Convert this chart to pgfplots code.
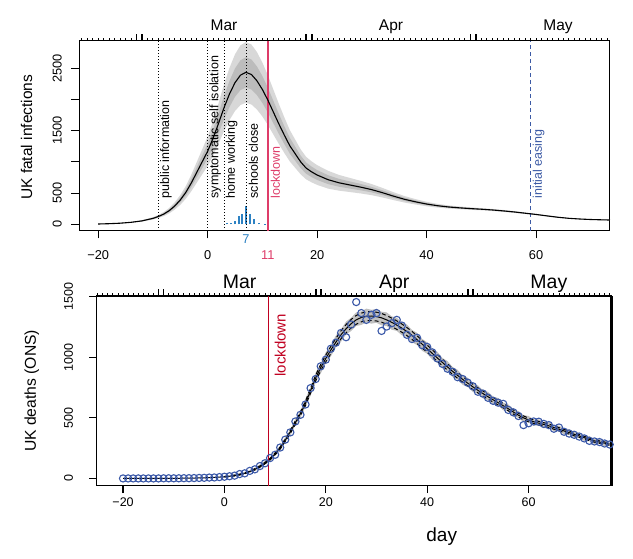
\documentclass[border=0pt]{standalone}
\usepackage{pgfplots}
\pgfplotsset{compat=1.18}
\usepackage{pgfplotstable}
\usepgfplotslibrary{fillbetween}
\usepackage{fontspec}
\setmainfont{Liberation Sans}

\definecolor{outerband}{RGB}{216,216,216}
\definecolor{innerband}{RGB}{188,188,188}
\definecolor{lockpink}{RGB}{222,60,105}
\definecolor{barblue}{RGB}{45,130,195}
\definecolor{easeblue}{RGB}{60,90,165}
\definecolor{ptblue}{RGB}{58,88,168}
\definecolor{lockred}{RGB}{192,0,32}
\definecolor{bandgrey}{RGB}{192,192,192}

% top panel: fatal infections, median and two credible bands
\pgfplotstableread{
d m lo2 lo1 hi1 hi2
-20 5 4 4.5 5.5 6
-18 10 8 9 11 12
-16 18 14 16 20 22
-14 32 26 29 35 38
-12 55 44 50 61 66
-10 95 76 86 105 114
-9 125 100 113 138 150
-8 165 132 149 182 198
-7 220 176 198 242 264
-6 295 236 266 325 354
-5 390 312 351 429 468
-4 510 408 459 561 612
-3 660 528 594 726 792
-2 830 664 747 913 996
-1 1000 800 900 1100 1200
0 1170 936 1053 1287 1404
1 1380 1104 1242 1518 1656
2 1620 1296 1458 1782 1944
3 1870 1496 1683 2057 2244
4 2090 1672 1881 2299 2508
5 2270 1816 2043 2497 2724
6 2390 1912 2151 2629 2868
7 2435 1948 2192 2679 2922
8 2400 1920 2160 2640 2880
9 2300 1840 2070 2530 2760
10 2160 1728 1944 2376 2592
11 1990 1592 1791 2189 2388
12 1800 1440 1620 1980 2160
13 1610 1288 1449 1771 1932
14 1430 1144 1287 1573 1716
15 1260 1008 1134 1386 1512
16 1130 904 1017 1243 1356
17 1000 800 900 1100 1200
18 900 720 810 990 1080
19 840 672 756 924 1008
20 790 632 711 869 948
22 715 572 644 787 858
24 665 539 602 728 791
26 630 517 573 687 743
28 595 494 544 646 696
30 555 466 511 599 644
32 505 429 467 543 581
34 450 387 419 482 513
36 400 348 374 426 452
38 360 317 338 382 403
40 325 289 307 343 361
42 298 268 283 313 328
44 278 253 265 291 303
46 264 242 253 275 286
48 252 232 242 262 272
50 242 225 234 250 259
52 230 214 222 238 246
54 215 200 207 223 230
56 198 184 191 205 212
58 178 167 173 183 189
60 158 149 153 163 167
62 135 127 131 139 143
64 113 106 110 116 120
66 96 91 94 98 101
68 85 81 83 87 89
70 77 73 75 79 81
72 72 68 70 74 76
73.5 69 66 67 71 72
}\fatal

% bottom panel: fitted deaths, band and dashed interval
\pgfplotstableread{
d f lo hi dlo dhi
0 14 10 18 11 17
1 18 13 23 15 21
2 24 18 30 20 28
3 32 25 39 28 36
4 43 35 51 39 47
5 57 46 68 53 61
6 75 62 88 70 80
7 98 81 115 93 103
8 126 118 146 120 132
9 160 138 170 153 167
10 202 191 225 194 210
11 252 227 265 243 261
12 315 300 342 304 326
13 385 355 403 372 398
14 460 440 492 445 475
15 535 500 558 519 551
16 620 594 658 601 639
17 725 684 754 704 746
18 828 795 873 804 852
19 915 867 951 889 941
20 990 951 1041 962 1018
21 1060 1007 1101 1030 1090
22 1125 1082 1180 1094 1156
23 1185 1128 1230 1152 1218
24 1235 1188 1294 1201 1269
25 1277 1216 1326 1242 1312
26 1308 1258 1370 1272 1344
27 1328 1266 1378 1292 1364
28 1338 1287 1401 1302 1374
29 1340 1277 1391 1303 1377
30 1335 1284 1398 1299 1371
31 1325 1263 1375 1289 1361
32 1308 1258 1370 1272 1344
33 1288 1227 1337 1253 1323
34 1265 1217 1325 1230 1300
35 1240 1181 1287 1206 1274
36 1212 1166 1270 1179 1245
37 1180 1123 1225 1147 1213
38 1145 1101 1201 1113 1177
39 1108 1053 1151 1077 1139
40 1070 1029 1123 1040 1100
41 1032 980 1072 1003 1061
42 994 955 1045 966 1022
43 957 908 994 930 984
44 920 884 968 894 946
45 884 837 919 859 909
46 850 816 896 826 874
47 817 772 850 794 840
48 786 754 830 763 809
49 756 714 786 734 778
50 727 698 768 706 748
51 700 660 728 679 721
52 674 646 714 654 694
53 649 610 676 630 668
54 625 599 663 606 644
55 600 563 625 582 618
56 575 551 611 558 592
57 548 513 571 531 565
58 522 500 556 506 538
59 500 466 522 484 516
60 482 461 515 467 497
61 468 436 488 453 483
62 456 436 488 442 470
63 446 414 466 432 460
64 434 415 465 420 448
65 420 389 439 406 434
66 406 388 436 393 419
67 392 362 410 379 405
68 378 361 407 366 390
69 364 335 381 352 376
70 350 334 378 338 362
71 336 308 352 325 347
72 322 307 349 311 333
73 310 283 325 299 321
74 300 285 327 290 310
75 291 265 305 281 301
76 284 270 310 274 294
}\fit

\pgfplotstableread{
d f
-20 0
-19 0
-18 0
-17 0
-16 0
-15 0
-14 0
-13 0.5
-12 0.6
-11 0.8
-10 1
-9 1.3
-8 1.7
-7 2.2
-6 3
-5 4
-4 5
-3 6.5
-2 8.5
-1 11
0 14
}\fitleft

\pgfplotstableread{
d v
-20 0
-19 0
-18 0
-17 0
-16 0
-15 0
-14 0
-13 0
-12 1
-11 1
-10 1
-9 1
-8 2
-7 2
-6 3
-5 4
-4 5
-3 7
-2 8
-1 11
0 14
1 18
2 23
3 36
4 42
5 62
6 75
7 102
8 125
9 168
10 195
11 255
12 320
13 380
14 470
15 525
16 610
17 745
18 820
19 925
20 980
21 1070
22 1120
23 1200
24 1165
25 1270
26 1455
27 1364
28 1308
29 1350
30 1364
31 1217
32 1253
33 1280
34 1308
35 1261
36 1185
37 1150
38 1160
39 1100
40 1085
41 1040
42 990
43 945
44 905
45 880
46 835
47 820
48 790
49 760
50 715
51 700
52 665
53 640
54 625
55 615
56 565
57 545
58 515
59 440
60 455
61 470
62 468
63 450
64 440
65 410
66 420
67 385
68 370
69 360
70 345
71 330
72 310
73 305
74 300
75 288
76 280
}\ons

\pgfplotsset{
  monthaxis/.style={
    scale only axis, anchor=south west,
    ymin=0, ymax=1, hide y axis, axis line style={draw=none},
    xtick={-25,-24,...,76}, xticklabel=\empty,
    xtick pos=right, tick align=outside,
    major tick length=2.6pt,
    tick style={line width=0.9pt, black},
    extra x ticks={-13,-12,18,19,48,49}, extra x tick labels={},
    extra x tick style={major tick length=6.5pt, tick style={line width=1.7pt, black}, xtick pos=right, tick align=outside},
    clip=false,
  },
}

\begin{document}
\begin{tikzpicture}[x=1pt,y=1pt]

% ---------------- top panel ----------------
\begin{axis}[
  at={(79pt,327pt)}, anchor=south west, scale only axis,
  width=531pt, height=190pt,
  xmin=-23.5, xmax=73.5, ymin=-107, ymax=2937,
  xtick={-20,0,20,40,60}, xticklabels={−20,0,20,40,60},
  ytick={0,500,1000,1500,2000,2500}, yticklabels={0,500,,1500,,2500},
  xtick pos=left, ytick pos=left, tick align=outside, major tick length=7.5pt,
  tick style={black, line width=0.9pt},
  axis line style={line width=1pt},
  ticklabel style={font=\fontsize{12.8}{15}\selectfont, inner sep=0pt},
  xticklabel style={anchor=north},
  yticklabel style={rotate=90, anchor=south},
  xticklabel shift=11.5pt, yticklabel shift=9.5pt,
  ylabel={UK fatal infections},
  every axis y label/.style={at={(axis description cs:-0.0985,0.493)}, rotate=90, anchor=center, font=\fontsize{15.5}{18}\selectfont},
  clip=false,
]
\addplot[name path=h2, draw=none, forget plot] table[x=d, y=hi2] {\fatal};
\addplot[name path=l2, draw=none, forget plot] table[x=d, y=lo2] {\fatal};
\addplot[outerband, forget plot] fill between[of=h2 and l2];
\addplot[name path=h1, draw=none, forget plot] table[x=d, y=hi1] {\fatal};
\addplot[name path=l1, draw=none, forget plot] table[x=d, y=lo1] {\fatal};
\addplot[innerband, forget plot] fill between[of=h1 and l1];
% distribution of peak day
\addplot[ycomb, barblue, line width=1.8pt, no markers] coordinates {
 (3.5,15) (4.2,25) (5,60) (5.8,140) (6.3,170) (7,300) (7.7,160) (8.5,80) (9.4,25) (10.5,10)};
% intervention lines
\addplot[black, line width=0.8pt, dash pattern=on 1pt off 2pt] coordinates {(-9,-107) (-9,2937)};
\addplot[black, line width=0.8pt, dash pattern=on 1pt off 2pt] coordinates {(0,-107) (0,2937)};
\addplot[black, line width=0.8pt, dash pattern=on 1pt off 2pt] coordinates {(3,-107) (3,2937)};
\addplot[black, line width=0.8pt, dash pattern=on 1pt off 2pt] coordinates {(7,-107) (7,2937)};
\addplot[lockpink, line width=1.3pt] coordinates {(11,-107) (11,2937)};
\addplot[easeblue, line width=1pt, dash pattern=on 4pt off 3pt] coordinates {(59,-107) (59,2937)};
% median
\addplot[black, line width=1.1pt] table[x=d, y=m] {\fatal};
% labels
\begin{scope}[every node/.style={font=\fontsize{12.5}{15}\selectfont, inner sep=0pt, anchor=west, rotate=90}]
\node at ([xshift=7.5pt]axis cs:-9,413) {public information};
\node at ([xshift=7.5pt]axis cs:0,413) {symptomatic self isolation};
\node at ([xshift=7.5pt]axis cs:3,413) {home working};
\node at ([xshift=7.5pt]axis cs:7,413) {schools close};
\node[lockpink] at ([xshift=7.5pt]axis cs:11,413) {lockdown};
\node[easeblue] at ([xshift=8pt]axis cs:59,413) {initial easing};
\end{scope}
\node[barblue, anchor=north, inner sep=0pt, yshift=-3.5pt, font=\fontsize{12.8}{15}\selectfont] at (axis cs:7,-107) {7};
\node[lockpink, anchor=north, inner sep=0pt, yshift=-19pt, font=\fontsize{12.8}{15}\selectfont] at (axis cs:11,-107) {11};
\end{axis}

\begin{axis}[monthaxis, at={(79pt,327pt)}, width=531pt, height=190pt, xmin=-23.5, xmax=73.5]
\addplot[draw=none] coordinates {(0,0) (1,1)};
\node[anchor=base, yshift=10.5pt, font=\fontsize{15.5}{18}\selectfont] at (axis cs:3,1) {Mar};
\node[anchor=base, yshift=10.5pt, font=\fontsize{15.5}{18}\selectfont] at (axis cs:33.5,1) {Apr};
\node[anchor=base, yshift=10.5pt, font=\fontsize{15.5}{18}\selectfont] at (axis cs:64,1) {May};
\end{axis}

% ---------------- bottom panel ----------------
\begin{axis}[
  at={(96.7pt,72.3pt)}, anchor=south west, scale only axis,
  width=515pt, height=189.7pt,
  xmin=-25.2, xmax=76.4, ymin=-60, ymax=1505,
  xtick={-20,0,20,40,60}, xticklabels={−20,0,20,40,60},
  ytick={0,500,1000,1500}, yticklabels={0,500,1000,1500},
  xtick pos=left, ytick pos=left, tick align=outside, major tick length=7.5pt,
  tick style={black, line width=1.2pt},
  axis line style={line width=1.2pt},
  ticklabel style={font=\fontsize{12.5}{15}\selectfont, inner sep=0pt},
  xticklabel style={anchor=north},
  yticklabel style={rotate=90, anchor=south},
  xticklabel shift=4pt, yticklabel shift=16pt,
  xlabel={day},
  every axis x label/.style={at={(axis description cs:0.67,-0.269)}, anchor=center, font=\fontsize{19}{22}\selectfont},
  ylabel={UK deaths (ONS)},
  every axis y label/.style={at={(axis description cs:-0.126,0.5)}, rotate=90, anchor=center, font=\fontsize{15.7}{18}\selectfont},
  clip=false,
]
\addplot[name path=bh, draw=none, forget plot] table[x=d, y=hi] {\fit};
\addplot[name path=bl, draw=none, forget plot] table[x=d, y=lo] {\fit};
\addplot[bandgrey, forget plot] fill between[of=bh and bl];
\addplot[black, line width=1pt, dash pattern=on 4pt off 3pt] table[x=d, y=dhi] {\fit};
\addplot[black, line width=1pt, dash pattern=on 4pt off 3pt] table[x=d, y=dlo] {\fit};
\addplot[black, line width=1pt] table[x=d, y=f] {\fitleft};
\addplot[black, line width=1pt] table[x=d, y=f] {\fit};
\addplot[only marks, mark=o, mark size=3.6pt, ptblue, mark options={line width=1.1pt}] table[x=d, y=v] {\ons};
\addplot[lockred, line width=1.6pt] coordinates {(8.7,-60) (8.7,1505)};
\node[lockred, anchor=west, rotate=90, inner sep=0pt, font=\fontsize{15}{18}\selectfont] at ([xshift=11.7pt]axis cs:8.7,840) {lockdown};
\draw[line width=2.8pt] (rel axis cs:1,0) -- (rel axis cs:1,1);
\end{axis}

\begin{axis}[monthaxis, at={(96.7pt,72.3pt)}, width=515pt, height=189.7pt, xmin=-25.2, xmax=76.4]
\addplot[draw=none] coordinates {(0,0) (1,1)};
\node[anchor=base, yshift=7.3pt, font=\fontsize{19.5}{22}\selectfont] at (axis cs:3,1) {Mar};
\node[anchor=base, yshift=7.3pt, font=\fontsize{19.5}{22}\selectfont] at (axis cs:33.5,1) {Apr};
\node[anchor=base, yshift=7.3pt, font=\fontsize{19.5}{22}\selectfont] at (axis cs:64,1) {May};
\end{axis}
\path (0,0) rectangle (633,558);
\end{tikzpicture}
\end{document}
